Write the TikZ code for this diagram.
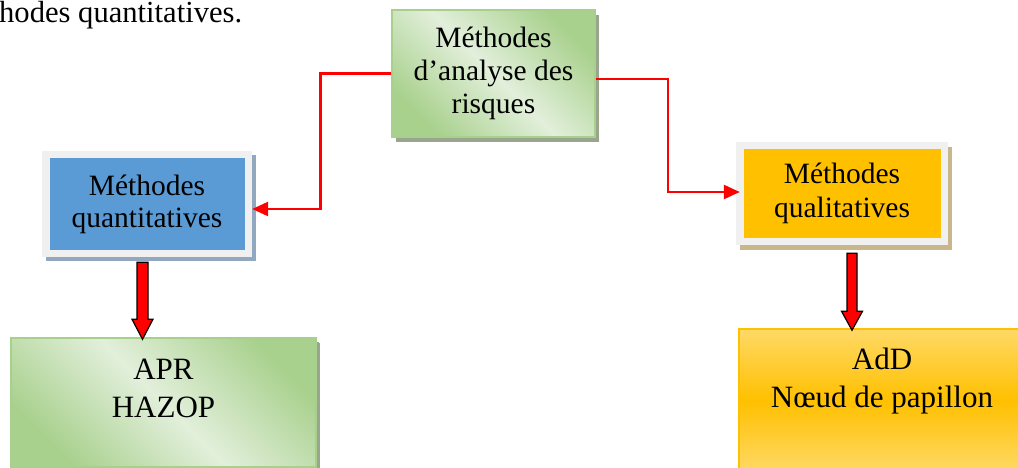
\documentclass[tikz,border=0pt]{standalone}
\usepackage{fontspec}
\setmainfont{Liberation Serif}
\usetikzlibrary{arrows.meta,shadows,calc}

\definecolor{greendark}{HTML}{A9D18E}
\definecolor{greenlight}{HTML}{E2EFDA}
\definecolor{greenline}{HTML}{A8D08D}
\definecolor{greenshadow}{HTML}{9AA58E}
\definecolor{qblue}{HTML}{5B9BD5}
\definecolor{blueshadow}{HTML}{92A8C0}
\definecolor{qyellow}{HTML}{FFC000}
\definecolor{ylight}{HTML}{FFD966}
\definecolor{yshadow}{HTML}{C9B68A}
\definecolor{framegray}{HTML}{F0F0F0}

\begin{document}
\begin{tikzpicture}[x=1pt,y=-1pt,
  txt/.style={font=\fontsize{29.5}{#1}\selectfont, align=center, inner sep=0pt, text=black},
  txt/.default=33,
  bigtxt/.style={font=\fontsize{31}{38}\selectfont, align=center, inner sep=0pt, text=black},
  % green gradient box with a soft drop shadow
  greenbox/.style={draw=greenline, line width=1.5pt,
    top color=greendark, bottom color=greendark, middle color=greenlight,
    shading angle=-45,
    drop shadow={shadow xshift=4pt, shadow yshift=-5pt, fill=greenshadow, opacity=1}},
  % coloured panel inside a light grey frame
  framebox/.style={fill=framegray, inner sep=0pt,
    path picture={\fill[#1] ([shift={(7.5pt,-7.5pt)}]path picture bounding box.north west)
      rectangle ([shift={(-7.5pt,7.5pt)}]path picture bounding box.south east);}},
  addbox/.style={draw=qyellow, line width=1.5pt,
    top color=ylight, bottom color=ylight, middle color=qyellow},
  conn/.style={draw=red, line width=2.5pt, -{Triangle[length=16pt,width=14pt]}},
  barrow/.style={fill=red, draw=black, line width=1.2pt, line join=miter}
]
\useasboundingbox (0,0) rectangle (1018,468);
\clip (0,0) rectangle (1018,468);

% heading line
\node[font=\fontsize{30.6}{36}\selectfont, inner sep=0pt, anchor=base west] (head) at (-1,23) {hodes quantitatives.};

% top box
\node[greenbox, minimum width=203pt, minimum height=127pt, inner sep=0pt,
      txt=33] (top) at (493.5,73.5) {Méthodes\\d’analyse des\\risques};

% left branch
\node[framebox=qblue, minimum width=210pt, minimum height=106pt, txt=32,
      drop shadow={shadow xshift=4pt, shadow yshift=-4pt, fill=blueshadow, opacity=1}]
      (blue) at (147,204) {Méthodes\\quantitatives};

% right branch
\node[framebox=qyellow, minimum width=212pt, minimum height=103pt, txt=34,
      drop shadow={shadow xshift=4pt, shadow yshift=-5pt, fill=yshadow, opacity=1}]
      (yellow) at (842,193.5) {Méthodes\\qualitatives};

% bottom boxes
\node[greenbox, minimum width=305pt, minimum height=129pt,
      drop shadow={shadow xshift=3pt, shadow yshift=-4pt, fill=greenshadow, opacity=1}]
      (apr) at (163.5,402.5) {};
\node[bigtxt] (aprtxt) at (163.5,388) {APR\\HAZOP};

\node[addbox, minimum width=286pt, minimum height=143pt] (add) at (882,400.5) {};
\node[bigtxt] (addtxt) at (882,381) {AdD\\Nœud de papillon};

% connectors
\draw[conn] (top.west) -- ++(-71,0) |- ([yshift=-5pt]blue.east);
\draw[conn, shorten >=-4pt] ([yshift=-5.5pt]top.east) -- ++(72,0) |- ([yshift=1.5pt]yellow.west);

% block arrows
\draw[barrow] let \p1=([xshift=-4.5pt,yshift=-5pt]blue.south), \p2=([yshift=-2pt]apr.north) in
  (\x1-5.5pt,\y1) -- (\x1+5.5pt,\y1) -- (\x1+5.5pt,\y2+20pt) -- (\x1+10.5pt,\y2+20pt)
  -- (\x1,\y2) -- (\x1-10.5pt,\y2+20pt) -- (\x1-5.5pt,\y2+20pt) -- cycle;
\draw[barrow] let \p1=([xshift=10pt,yshift=-8pt]yellow.south), \p2=([yshift=-2pt]add.north) in
  (\x1-5pt,\y1) -- (\x1+5pt,\y1) -- (\x1+5pt,\y2+19pt) -- (\x1+10.5pt,\y2+19pt)
  -- (\x1,\y2) -- (\x1-10.5pt,\y2+19pt) -- (\x1-5pt,\y2+19pt) -- cycle;
\end{tikzpicture}
\end{document}
